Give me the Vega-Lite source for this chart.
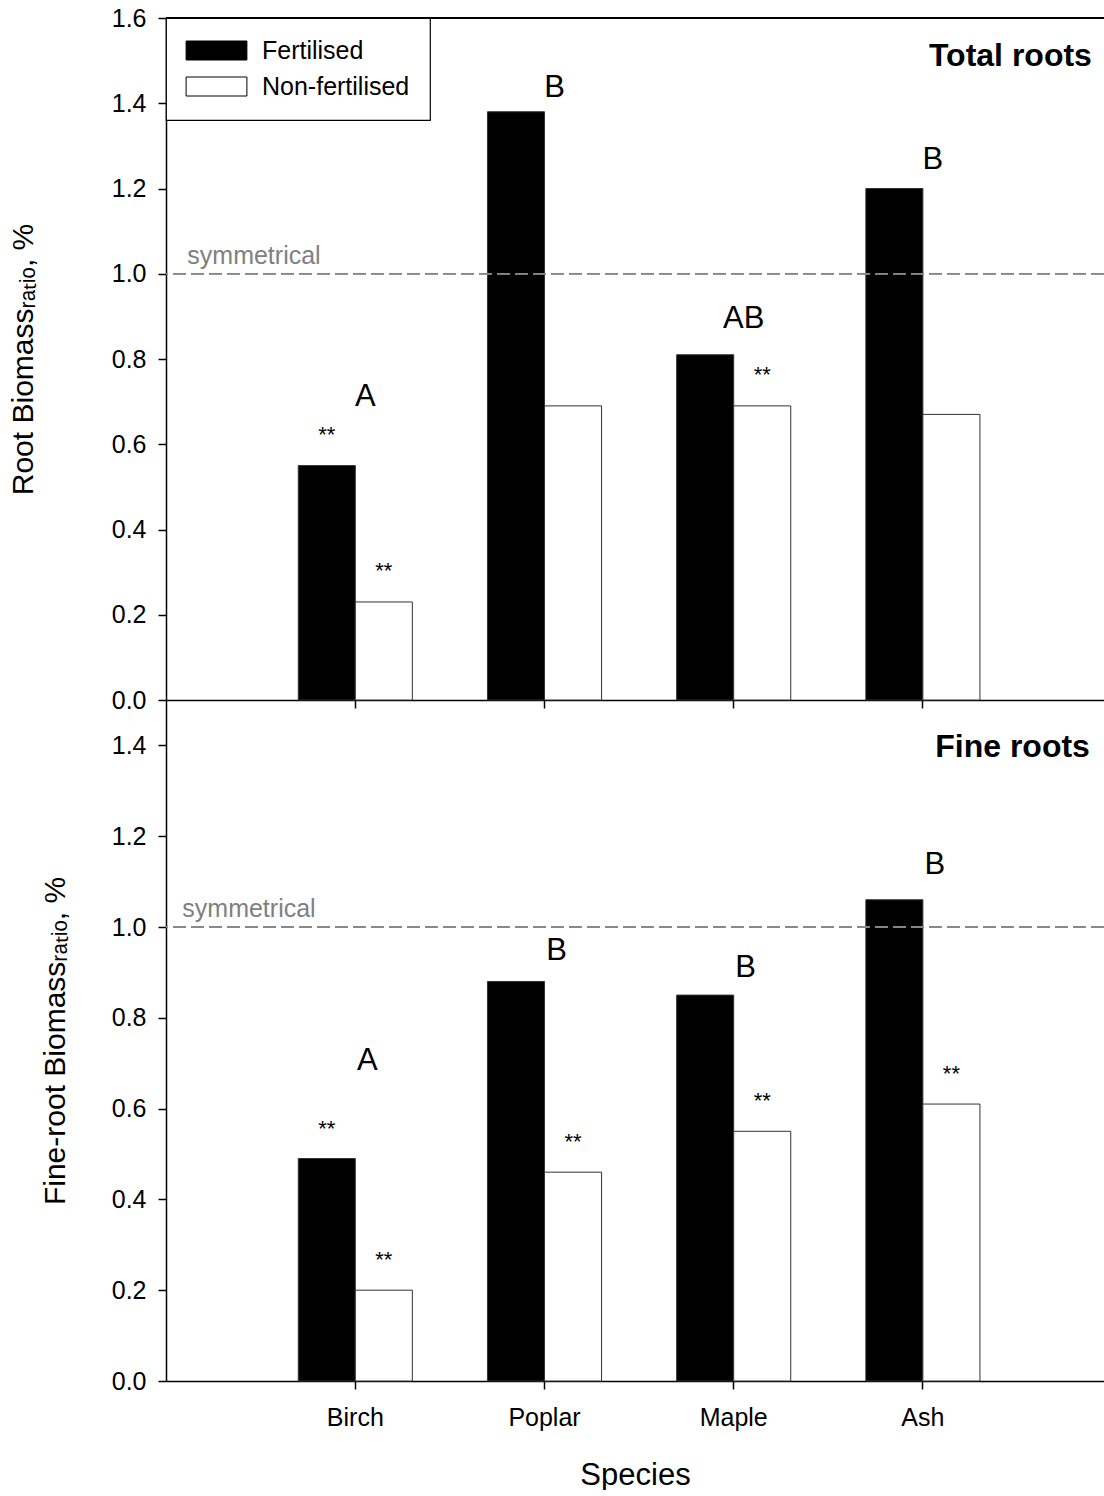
{
  "$schema": "https://vega.github.io/schema/vega-lite/v6.json",
  "padding": {"left": 8, "top": 6, "right": 0, "bottom": 0},
  "bounds": "flush",
  "spacing": 0,
  "config": {
    "view": {"stroke": null},
    "font": "Liberation Sans",
    "axis": {"domainColor": "black", "tickColor": "black", "labelColor": "black", "titleColor": "black", "grid": false, "labelFont": "Liberation Sans", "titleFont": "Liberation Sans", "titleFontWeight": "normal", "domainWidth": 1.5, "tickWidth": 1.5, "tickSize": 8, "labelFontSize": 25},
    "legend": {"strokeWidth": 1.2}
  },
  "datasets": {
    "total": [
      {"species": "Birch", "treatment": "Fertilised", "value": 0.55, "sig": "**"},
      {"species": "Birch", "treatment": "Non-fertilised", "value": 0.23, "sig": "**"},
      {"species": "Poplar", "treatment": "Fertilised", "value": 1.38, "sig": ""},
      {"species": "Poplar", "treatment": "Non-fertilised", "value": 0.69, "sig": ""},
      {"species": "Maple", "treatment": "Fertilised", "value": 0.81, "sig": ""},
      {"species": "Maple", "treatment": "Non-fertilised", "value": 0.69, "sig": "**"},
      {"species": "Ash", "treatment": "Fertilised", "value": 1.20, "sig": ""},
      {"species": "Ash", "treatment": "Non-fertilised", "value": 0.67, "sig": ""}
    ],
    "fine": [
      {"species": "Birch", "treatment": "Fertilised", "value": 0.49, "sig": "**"},
      {"species": "Birch", "treatment": "Non-fertilised", "value": 0.20, "sig": "**"},
      {"species": "Poplar", "treatment": "Fertilised", "value": 0.88, "sig": ""},
      {"species": "Poplar", "treatment": "Non-fertilised", "value": 0.46, "sig": "**"},
      {"species": "Maple", "treatment": "Fertilised", "value": 0.85, "sig": ""},
      {"species": "Maple", "treatment": "Non-fertilised", "value": 0.55, "sig": "**"},
      {"species": "Ash", "treatment": "Fertilised", "value": 1.06, "sig": ""},
      {"species": "Ash", "treatment": "Non-fertilised", "value": 0.61, "sig": "**"}
    ],
    "totalLetters": [
      {"species": "Birch", "letter": "A", "ly": 0.69},
      {"species": "Poplar", "letter": "B", "ly": 1.415},
      {"species": "Maple", "letter": "AB", "ly": 0.873},
      {"species": "Ash", "letter": "B", "ly": 1.246}
    ],
    "fineLetters": [
      {"species": "Birch", "letter": "A", "ly": 0.685},
      {"species": "Poplar", "letter": "B", "ly": 0.927},
      {"species": "Maple", "letter": "B", "ly": 0.89},
      {"species": "Ash", "letter": "B", "ly": 1.117}
    ],
    "totalNotes": [
      {"species": "Birch", "note": "symmetrical", "ny": 1.0},
      {"species": "Ash", "note": "Total roots", "ny": 1.487}
    ],
    "fineNotes": [
      {"species": "Birch", "note": "symmetrical", "ny": 1.0},
      {"species": "Ash", "note": "Fine roots", "ny": 1.374}
    ]
  },
  "resolve": {"legend": {"color": "independent"}},
  "vconcat": [
    {
      "width": 938,
      "height": 682,
      "layer": [
        {
          "data": {"name": "total"},
          "mark": {"type": "bar", "stroke": "#333", "strokeWidth": 1},
          "encoding": {
            "x": {"field": "species", "type": "nominal", "sort": null,
              "scale": {"domain": ["Birch", "Poplar", "Maple", "Ash"], "paddingInner": 0.397, "paddingOuter": 0.6775, "align": 0.516},
              "axis": {"labels": false, "title": null, "orient": "bottom"}},
            "xOffset": {"field": "treatment", "type": "nominal", "scale": {"domain": ["Fertilised", "Non-fertilised"], "paddingInner": 0, "paddingOuter": 0}},
            "y": {"field": "value", "type": "quantitative",
              "scale": {"domain": [0, 1.6], "nice": false, "zero": true},
              "axis": {"values": [0, 0.2, 0.4, 0.6, 0.8, 1.0, 1.2, 1.4, 1.6], "format": ".1f", "labelFlush": false, "labelPadding": 12, "title": "Root Biomassᵣₐₜᵢₒ, %", "titleFontSize": 30, "titlePadding": 73}},
            "color": {"field": "treatment", "type": "nominal",
              "scale": {"domain": ["Fertilised", "Non-fertilised"], "range": ["black", "white"]},
              "legend": {"title": null, "orient": "top-left", "offset": 0, "padding": 20, "strokeColor": "black", "fillColor": "white", "symbolType": "M-3.2,-1H3.2V1H-3.2Z", "symbolSize": 361, "symbolStrokeColor": "black", "symbolStrokeWidth": 1, "symbolOffset": 18, "symbolOpacity": 1, "labelFontSize": 25, "labelOffset": 33, "rowPadding": 10, "labelColor": "black", "labelFont": "Liberation Sans"}}
          }
        },
        {
          "data": {"name": "total"},
          "mark": {"type": "rule", "color": "black", "strokeWidth": 1.5},
          "encoding": {"y": {"datum": 1.6}}
        },
        {
          "data": {"name": "total"},
          "mark": {"type": "rule", "color": "#888888", "strokeWidth": 1, "strokeDash": [13, 5]},
          "encoding": {"y": {"datum": 1.0}}
        },
        {
          "data": {"name": "totalNotes"},
          "transform": [{"filter": "datum.species == 'Birch'"}],
          "mark": {"type": "text", "align": "left", "baseline": "alphabetic", "dx": -168, "dy": -10, "fontSize": 25, "color": "#808080"},
          "encoding": {"x": {"field": "species", "type": "nominal"}, "y": {"field": "ny", "type": "quantitative"}, "text": {"field": "note"}}
        },
        {
          "data": {"name": "totalNotes"},
          "transform": [{"filter": "datum.species == 'Ash'"}],
          "mark": {"type": "text", "align": "right", "baseline": "alphabetic", "dx": 169, "fontSize": 32, "fontWeight": "bold", "color": "black"},
          "encoding": {"x": {"field": "species", "type": "nominal"}, "y": {"field": "ny", "type": "quantitative"}, "text": {"field": "note"}}
        },
        {
          "data": {"name": "total"},
          "transform": [{"filter": "datum.sig != ''"}],
          "mark": {"type": "text", "baseline": "alphabetic", "dy": -24, "fontSize": 22, "color": "black"},
          "encoding": {
            "x": {"field": "species", "type": "nominal"},
            "xOffset": {"field": "treatment", "type": "nominal"},
            "y": {"field": "value", "type": "quantitative"},
            "text": {"field": "sig"}
          }
        },
        {
          "data": {"name": "totalLetters"},
          "mark": {"type": "text", "baseline": "alphabetic", "dx": 10, "fontSize": 31, "color": "black"},
          "encoding": {
            "x": {"field": "species", "type": "nominal"},
            "y": {"field": "ly", "type": "quantitative"},
            "text": {"field": "letter"}
          }
        }
      ]
    },
    {
      "width": 938,
      "height": 681,
      "layer": [
        {
          "data": {"name": "fine"},
          "mark": {"type": "bar", "stroke": "#333", "strokeWidth": 1},
          "encoding": {
            "x": {"field": "species", "type": "nominal", "sort": null,
              "scale": {"domain": ["Birch", "Poplar", "Maple", "Ash"], "paddingInner": 0.397, "paddingOuter": 0.6775, "align": 0.516},
              "axis": {"labelAngle": 0, "labelPadding": 16, "title": "Species", "titleFontSize": 31, "titlePadding": 30, "orient": "bottom"}},
            "xOffset": {"field": "treatment", "type": "nominal", "scale": {"domain": ["Fertilised", "Non-fertilised"], "paddingInner": 0, "paddingOuter": 0}},
            "y": {"field": "value", "type": "quantitative",
              "scale": {"domain": [0, 1.5], "nice": false, "zero": true},
              "axis": {"values": [0, 0.2, 0.4, 0.6, 0.8, 1.0, 1.2, 1.4], "format": ".1f", "labelFlush": false, "labelPadding": 12, "title": "Fine-root Biomassᵣₐₜᵢₒ, %", "titleFontSize": 30, "titlePadding": 41}},
            "color": {"field": "treatment", "type": "nominal",
              "scale": {"domain": ["Fertilised", "Non-fertilised"], "range": ["black", "white"]},
              "legend": null}
          }
        },
        {
          "data": {"name": "fine"},
          "mark": {"type": "rule", "color": "#888888", "strokeWidth": 1, "strokeDash": [13, 5]},
          "encoding": {"y": {"datum": 1.0}}
        },
        {
          "data": {"name": "fineNotes"},
          "transform": [{"filter": "datum.species == 'Birch'"}],
          "mark": {"type": "text", "align": "left", "baseline": "alphabetic", "dx": -173, "dy": -10, "fontSize": 25, "color": "#808080"},
          "encoding": {"x": {"field": "species", "type": "nominal"}, "y": {"field": "ny", "type": "quantitative"}, "text": {"field": "note"}}
        },
        {
          "data": {"name": "fineNotes"},
          "transform": [{"filter": "datum.species == 'Ash'"}],
          "mark": {"type": "text", "align": "right", "baseline": "alphabetic", "dx": 167, "fontSize": 32, "fontWeight": "bold", "color": "black"},
          "encoding": {"x": {"field": "species", "type": "nominal"}, "y": {"field": "ny", "type": "quantitative"}, "text": {"field": "note"}}
        },
        {
          "data": {"name": "fine"},
          "transform": [{"filter": "datum.sig != ''"}],
          "mark": {"type": "text", "baseline": "alphabetic", "dy": -23, "fontSize": 22, "color": "black"},
          "encoding": {
            "x": {"field": "species", "type": "nominal"},
            "xOffset": {"field": "treatment", "type": "nominal"},
            "y": {"field": "value", "type": "quantitative"},
            "text": {"field": "sig"}
          }
        },
        {
          "data": {"name": "fineLetters"},
          "mark": {"type": "text", "baseline": "alphabetic", "dx": 12, "fontSize": 31, "color": "black"},
          "encoding": {
            "x": {"field": "species", "type": "nominal"},
            "y": {"field": "ly", "type": "quantitative"},
            "text": {"field": "letter"}
          }
        }
      ]
    }
  ]
}
